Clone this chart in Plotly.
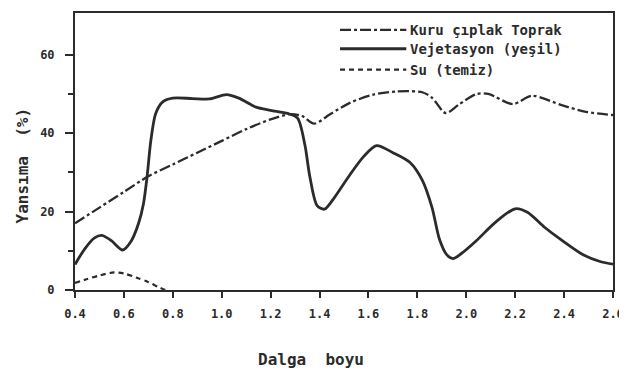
import plotly.graph_objects as go

# ---- data ----
soil_x = [0.40, 0.50, 0.60, 0.70, 0.80, 0.90, 1.00, 1.10, 1.20, 1.28, 1.33, 1.378, 1.443,
          1.524, 1.62, 1.714, 1.82, 1.86, 1.916, 1.97, 2.04, 2.09, 2.19, 2.27, 2.39, 2.49, 2.60]
soil_y = [17.0, 21.0, 25.0, 29.0, 32.0, 35.0, 38.0, 41.0, 43.5, 44.8, 44.3, 42.4, 44.8,
          47.7, 49.8, 50.6, 50.4, 49.0, 45.1, 47.3, 49.9, 50.0, 47.4, 49.5, 47.1, 45.4, 44.6]

veg_x = [0.40, 0.44, 0.48, 0.51, 0.55, 0.595, 0.63, 0.66, 0.68, 0.695, 0.71, 0.73, 0.76,
         0.80, 0.88, 0.95, 1.02, 1.07, 1.14, 1.20, 1.27, 1.31, 1.34, 1.36, 1.39, 1.42,
         1.46, 1.52, 1.58, 1.633, 1.70, 1.77, 1.82, 1.86, 1.89, 1.92, 1.945, 1.98, 2.04,
         2.12, 2.20, 2.25, 2.32, 2.39, 2.48, 2.55, 2.60]
veg_y = [6.5, 10.5, 13.3, 13.9, 12.5, 10.2, 12.5, 17.0, 22.0, 29.0, 38.0, 45.0, 48.0,
         48.9, 48.8, 48.7, 49.8, 48.9, 46.6, 45.8, 45.0, 43.8, 37.0, 29.0, 21.5, 20.6,
         23.5, 29.0, 34.0, 36.8, 35.0, 32.5, 28.0, 21.0, 13.0, 9.0, 8.0, 9.3, 12.5,
         17.3, 20.7, 19.8, 16.0, 12.7, 8.9, 7.2, 6.6]

water_x = [0.40, 0.45, 0.50, 0.56, 0.60, 0.65, 0.70, 0.74, 0.77]
water_y = [1.8, 2.8, 3.7, 4.5, 4.2, 3.2, 2.0, 0.8, 0.0]

x_ticks = [0.4, 0.6, 0.8, 1.0, 1.2, 1.4, 1.6, 1.8, 2.0, 2.2, 2.4, 2.6]
x_tick_text = ["0.4", "0.6", "0.8", "1.0", "1.2", "1.4", "1.6", "1.8", "2.0", "2.2", "2.4", "2.6"]
y_ticks = [0, 20, 40, 60]
y_tick_text = ["0", "20", "40", "60"]

series_names = ["Kuru çıplak Toprak", "Vejetasyon (yeşil)", "Su (temiz)"]
x_title = "Dalga  boyu"
y_title = "Yansıma  (%)"

# ---- styling ----
INK = "#2b2b2b"
FONT = "DejaVu Sans Mono"
soil_dash = "11px,3px,3px,3px"
water_dash = "5px,4px"

fig = go.Figure()
fig.add_trace(go.Scatter(x=soil_x, y=soil_y, mode="lines", name=series_names[0],
                         line=dict(color=INK, width=2.3, dash=soil_dash, shape="spline", smoothing=0.8)))
fig.add_trace(go.Scatter(x=veg_x, y=veg_y, mode="lines", name=series_names[1],
                         line=dict(color=INK, width=2.8, shape="spline", smoothing=0.8)))
fig.add_trace(go.Scatter(x=water_x, y=water_y, mode="lines", name=series_names[2],
                         line=dict(color=INK, width=2.2, dash=water_dash, shape="spline", smoothing=0.8)))

# page has an 8px body margin: figure placed at (8, 8)
OFF = 8
W, H = 627 - OFF, 371 - OFF
L, T = 75 - OFF, 11 - OFF
R = W - (619 - OFF)
B = H - (290 - OFF)
pw, ph = W - L - R, H - T - B


def px_to_paper(xp, yp):
    """page pixel -> paper coords"""
    xp -= OFF
    yp -= OFF
    return (xp - L) / pw, (H - B - yp) / ph


# custom legend (line samples + labels)
legend_rows = [28, 47, 68]
legend_dashes = [soil_dash, "solid", water_dash]
legend_widths = [2.3, 2.8, 2.2]
shapes = []
annotations = []
for name, yrow, dash, lw in zip(series_names, legend_rows, legend_dashes, legend_widths):
    x0, y0 = px_to_paper(343, yrow)
    x1, _ = px_to_paper(410, yrow)
    shapes.append(dict(type="line", xref="paper", yref="paper", x0=x0, x1=x1, y0=y0, y1=y0,
                       line=dict(color=INK, width=lw, dash=dash)))
    tx, _ = px_to_paper(412, yrow)
    annotations.append(dict(text=name, xref="paper", yref="paper", x=tx, y=y0,
                            xanchor="left", yanchor="middle", showarrow=False,
                            font=dict(family=FONT, size=14, color=INK, weight="bold")))

xt, yt = px_to_paper(314, 360)
annotations.append(dict(text=x_title, xref="paper", yref="paper", x=xt, y=yt,
                        xanchor="center", yanchor="middle", showarrow=False,
                        font=dict(family=FONT, size=16, color=INK, weight="bold")))
xt, yt = px_to_paper(22, 165)
annotations.append(dict(text=y_title, xref="paper", yref="paper", x=xt, y=yt, textangle=-90,
                        xanchor="center", yanchor="middle", showarrow=False,
                        font=dict(family=FONT, size=16, color=INK, weight="bold")))

fig.update_layout(
    width=W, height=H,
    margin=dict(l=L, r=R, t=T, b=B),
    paper_bgcolor="white", plot_bgcolor="white",
    showlegend=False,
    shapes=shapes, annotations=annotations,
    font=dict(family=FONT, color=INK),
)
fig.update_xaxes(range=[0.4, 2.6], tickvals=x_ticks, ticktext=x_tick_text,
                 ticks="outside", ticklen=6, tickwidth=1.5, tickcolor=INK,
                 ticklabelstandoff=6, ticklabeloverflow="allow",
                 showline=True, linewidth=2, linecolor=INK, mirror=True,
                 showgrid=False, zeroline=False,
                 tickfont=dict(family=FONT, size=12, color=INK, weight="bold"))
fig.update_yaxes(range=[0, 70.6], tickvals=y_ticks, ticktext=y_tick_text,
                 ticks="outside", ticklen=8, tickwidth=1.5, tickcolor=INK,
                 ticklabelstandoff=8,
                 minor=dict(tickvals=[10, 30, 50], ticks="outside", ticklen=5, tickcolor=INK),
                 showline=True, linewidth=2, linecolor=INK, mirror=True,
                 showgrid=False, zeroline=False,
                 tickfont=dict(family=FONT, size=12, color=INK, weight="bold"))

fig.write_html("out.html")
